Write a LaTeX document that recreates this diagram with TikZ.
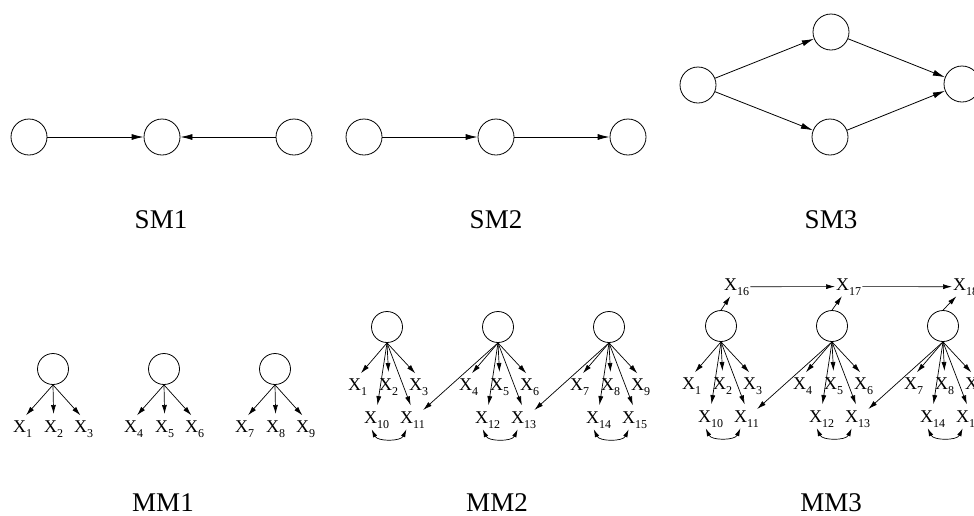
\documentclass[tikz,border=0pt]{standalone}
\usepackage{fontspec}
\setmainfont{Liberation Serif}
\usetikzlibrary{arrows.meta}
\newcommand{\xvar}[1]{X\raisebox{-5pt}{\fontsize{12}{12}\selectfont #1}}

\begin{document}
\begin{tikzpicture}[x=1pt,y=1pt,
	big/.style={circle,draw,line width=0.8pt,minimum size=36pt,inner sep=0pt},
	small/.style={circle,draw,line width=0.8pt,minimum size=31pt,inner sep=0pt},
	obs/.style={inner sep=1pt,font=\fontsize{18}{18}\selectfont},
	title/.style={anchor=base,inner sep=0pt,font=\fontsize{27}{27}\selectfont},
	sarr/.style={-{Latex[length=12pt,width=6pt]},line width=0.8pt},
	marr/.style={-{Latex[length=9pt,width=5pt]},line width=0.7pt,shorten >=5pt},
	corr/.style={{Latex[length=8pt,width=4.5pt]}-{Latex[length=8pt,width=4.5pt]},line width=0.7pt}]
	\useasboundingbox (0,0) rectangle (974,-515);

	% SM1
	\node[big] (s1a) at (29,-137) {};
	\node[big] (s1b) at (162,-137) {};
	\node[big] (s1c) at (294,-137) {};
	\draw[sarr] (s1a) -- (s1b);
	\draw[sarr] (s1c) -- (s1b);
	\node[title] (sm1) at (161,-228) {SM1};

	% SM2
	\node[big] (s2a) at (364,-137) {};
	\node[big] (s2b) at (496,-137) {};
	\node[big] (s2c) at (628,-137) {};
	\draw[sarr] (s2a) -- (s2b);
	\draw[sarr] (s2b) -- (s2c);
	\node[title] (sm2) at (496,-228) {SM2};

	% SM3
	\node[big] (s3a) at (698,-85) {};
	\node[big] (s3b) at (831,-32) {};
	\node[big] (s3c) at (830,-137) {};
	\node[big] (s3d) at (962,-84) {};
	\draw[sarr] (s3a) -- (s3b);
	\draw[sarr] (s3a) -- (s3c);
	\draw[sarr] (s3b) -- (s3d);
	\draw[sarr] (s3c) -- (s3d);
	\node[title] (sm3) at (831,-228) {SM3};

	% MM1
	\foreach \g in {1,2,3}{
		\pgfmathsetmacro{\cx}{53+111*(\g-1)}
		\pgfmathtruncatemacro{\ia}{3*\g-2}
		\pgfmathtruncatemacro{\ib}{3*\g-1}
		\pgfmathtruncatemacro{\ic}{3*\g}
		\node[small] (m1c\g) at (\cx,-369) {};
		\node[obs,anchor=base west] (m1x\ia) at (\cx-41,-432) {\xvar{\ia}};
		\node[obs,anchor=base west] (m1x\ib) at (\cx-10,-432) {\xvar{\ib}};
		\node[obs,anchor=base west] (m1x\ic) at (\cx+20,-432) {\xvar{\ic}};
		\draw[marr] (m1c\g.south) -- (m1x\ia.north);
		\draw[marr] (m1c\g.south) -- (m1x\ib.north);
		\draw[marr] (m1c\g.south) -- (m1x\ic.north);
	}
	\node[title] (mm1) at (163,-511) {MM1};

	% MM2 and MM3
	\foreach \p/\bx/\by in {2/387/327,3/721/326}{
		\foreach \g in {1,2,3}{
			\pgfmathsetmacro{\cx}{\bx+111*(\g-1)}
			\pgfmathtruncatemacro{\ia}{3*\g-2}
			\pgfmathtruncatemacro{\ib}{3*\g-1}
			\pgfmathtruncatemacro{\ic}{3*\g}
			\pgfmathtruncatemacro{\id}{8+2*\g}
			\pgfmathtruncatemacro{\ie}{9+2*\g}
			\node[small] (m\p c\g) at (\cx,-\by) {};
			\node[obs,anchor=base west] (m\p x\ia) at (\cx-40,-\by-63) {\xvar{\ia}};
			\node[obs,anchor=base west] (m\p x\ib) at (\cx-9,-\by-63) {\xvar{\ib}};
			\node[obs,anchor=base west] (m\p x\ic) at (\cx+21,-\by-63) {\xvar{\ic}};
			\node[obs,anchor=base west] (m\p x\id) at (\cx-24,-\by-96) {\xvar{\id}};
			\node[obs,anchor=base west] (m\p x\ie) at (\cx+12,-\by-96) {\xvar{\ie}};
			\draw[marr] (m\p c\g.south) -- (m\p x\ia.north);
			\draw[marr] (m\p c\g.south) -- (m\p x\ib.north);
			\draw[marr] (m\p c\g.south) -- (m\p x\ic.north);
			\draw[marr] (m\p c\g.south) -- (m\p x\id.north);
			\draw[marr] (m\p c\g.south) -- (m\p x\ie.north);
			\draw[corr] ([xshift=-5pt]m\p x\id.south) to[bend right=65] ([xshift=-6pt]m\p x\ie.south);
		}
		% cross loadings
		\draw[marr,shorten >=0pt] (m\p c2.south) -- (m\p x11);
		\draw[marr,shorten >=0pt] (m\p c3.south) -- (m\p x13);
	}
	\node[title] (mm2) at (497,-511) {MM2};

	% MM3 top row
	\node[obs,anchor=base west] (m3x16) at (723,-290) {\xvar{16}};
	\node[obs,anchor=base west] (m3x17) at (835,-290) {\xvar{17}};
	\node[obs,anchor=base west] (m3x18) at (952,-290) {\xvar{18}};
	\draw[marr,shorten >=0pt] (m3c1.north) -- (m3x16);
	\draw[marr,shorten >=0pt] (m3c2.north) -- (m3x17);
	\draw[marr,shorten >=0pt] (m3c3.north) -- (m3x18);
	\draw[marr,shorten >=0pt] (m3x16) -- (m3x17);
	\draw[marr,shorten >=0pt] (m3x17) -- (m3x18);
	\node[title] (mm3) at (831,-511) {MM3};
\end{tikzpicture}
\end{document}
